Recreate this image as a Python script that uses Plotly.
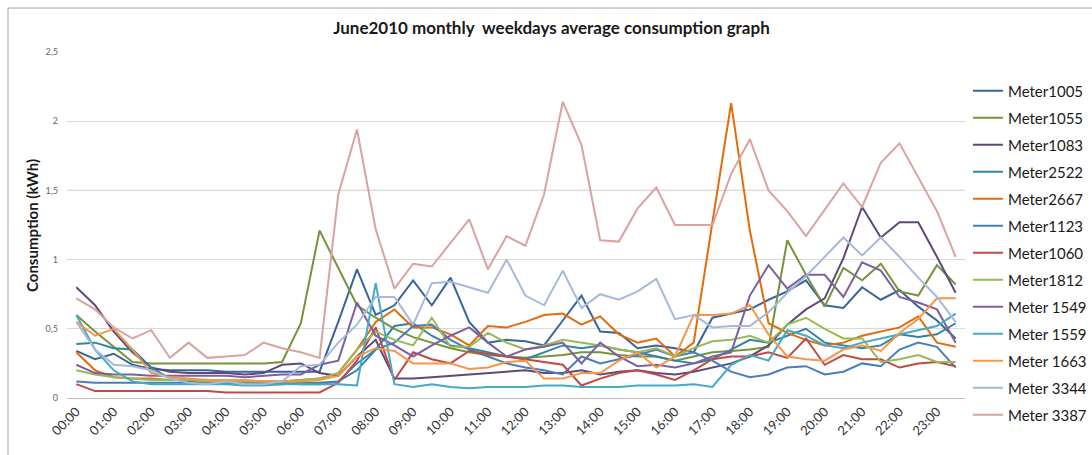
import plotly.graph_objects as go

# Half-hourly time slots
times = [f"{h:02d}:{m:02d}" for h in range(24) for m in (0, 30)]
hour_labels = times[::2]

# Average weekday consumption per meter (kWh)
m1005 = [0.34, 0.28, 0.32, 0.24, 0.21, 0.20, 0.20, 0.20, 0.19, 0.19, 0.19, 0.19, 0.19, 0.19, 0.55, 0.93,
         0.60, 0.67, 0.85, 0.67, 0.87, 0.55, 0.40, 0.42, 0.41, 0.38, 0.56, 0.74, 0.48, 0.47, 0.36, 0.38,
         0.36, 0.33, 0.58, 0.61, 0.64, 0.71, 0.77, 0.85, 0.67, 0.65, 0.80, 0.71, 0.78, 0.66, 0.56, 0.43]
m1055 = [0.60, 0.48, 0.37, 0.26, 0.25, 0.25, 0.25, 0.25, 0.25, 0.25, 0.25, 0.26, 0.54, 1.21, 0.94, 0.67,
         0.58, 0.50, 0.44, 0.40, 0.36, 0.33, 0.31, 0.30, 0.29, 0.30, 0.31, 0.33, 0.33, 0.31, 0.30, 0.30,
         0.27, 0.30, 0.33, 0.34, 0.35, 0.37, 1.14, 0.89, 0.66, 0.94, 0.85, 0.97, 0.77, 0.74, 0.96, 0.82]
m1083 = [0.80, 0.67, 0.48, 0.33, 0.22, 0.19, 0.18, 0.18, 0.18, 0.17, 0.18, 0.24, 0.25, 0.18, 0.16, 0.30,
         0.42, 0.14, 0.14, 0.15, 0.16, 0.17, 0.18, 0.19, 0.20, 0.18, 0.18, 0.20, 0.17, 0.19, 0.20, 0.18,
         0.17, 0.19, 0.22, 0.25, 0.30, 0.38, 0.53, 0.64, 0.72, 1.01, 1.38, 1.16, 1.27, 1.27, 1.02, 0.76]
m2522 = [0.39, 0.40, 0.36, 0.35, 0.22, 0.14, 0.12, 0.11, 0.11, 0.11, 0.10, 0.10, 0.11, 0.11, 0.12, 0.20,
         0.35, 0.52, 0.54, 0.45, 0.38, 0.36, 0.33, 0.30, 0.28, 0.33, 0.38, 0.36, 0.38, 0.35, 0.33, 0.30,
         0.27, 0.25, 0.28, 0.35, 0.42, 0.40, 0.45, 0.50, 0.40, 0.38, 0.36, 0.38, 0.46, 0.44, 0.46, 0.54]
m2667 = [0.33, 0.20, 0.15, 0.14, 0.14, 0.13, 0.13, 0.13, 0.12, 0.12, 0.12, 0.12, 0.13, 0.14, 0.18, 0.35,
         0.55, 0.64, 0.51, 0.51, 0.46, 0.38, 0.52, 0.51, 0.55, 0.60, 0.61, 0.53, 0.59, 0.46, 0.40, 0.43,
         0.30, 0.40, 1.27, 2.13, 1.21, 0.54, 0.47, 0.42, 0.38, 0.40, 0.45, 0.48, 0.51, 0.59, 0.40, 0.37]
m1123 = [0.12, 0.11, 0.11, 0.11, 0.11, 0.11, 0.11, 0.11, 0.11, 0.11, 0.11, 0.11, 0.10, 0.10, 0.12, 0.25,
         0.35, 0.40, 0.52, 0.53, 0.42, 0.35, 0.30, 0.25, 0.22, 0.20, 0.17, 0.30, 0.25, 0.28, 0.31, 0.35,
         0.30, 0.33, 0.27, 0.19, 0.15, 0.17, 0.22, 0.23, 0.17, 0.19, 0.25, 0.23, 0.35, 0.40, 0.37, 0.22]
m1060 = [0.10, 0.05, 0.05, 0.05, 0.05, 0.05, 0.05, 0.05, 0.04, 0.04, 0.04, 0.04, 0.04, 0.04, 0.11, 0.27,
         0.51, 0.13, 0.33, 0.28, 0.25, 0.34, 0.32, 0.30, 0.28, 0.26, 0.24, 0.09, 0.14, 0.18, 0.20, 0.17,
         0.13, 0.20, 0.28, 0.30, 0.30, 0.33, 0.29, 0.43, 0.24, 0.31, 0.28, 0.28, 0.22, 0.25, 0.26, 0.23]
m1812 = [0.20, 0.17, 0.15, 0.14, 0.13, 0.13, 0.13, 0.12, 0.12, 0.12, 0.12, 0.12, 0.13, 0.14, 0.18, 0.35,
         0.48, 0.42, 0.38, 0.58, 0.37, 0.37, 0.47, 0.40, 0.35, 0.38, 0.42, 0.40, 0.38, 0.35, 0.33, 0.36,
         0.30, 0.36, 0.41, 0.42, 0.45, 0.40, 0.53, 0.58, 0.50, 0.43, 0.43, 0.26, 0.28, 0.31, 0.26, 0.26]
m1549 = [0.24, 0.18, 0.17, 0.17, 0.16, 0.16, 0.16, 0.16, 0.16, 0.15, 0.16, 0.17, 0.17, 0.24, 0.27, 0.69,
         0.45, 0.38, 0.30, 0.38, 0.45, 0.51, 0.40, 0.30, 0.35, 0.37, 0.40, 0.25, 0.40, 0.30, 0.23, 0.24,
         0.22, 0.25, 0.30, 0.33, 0.74, 0.96, 0.79, 0.89, 0.89, 0.73, 0.98, 0.92, 0.73, 0.69, 0.64, 0.40]
m1559 = [0.60, 0.35, 0.20, 0.12, 0.10, 0.10, 0.10, 0.10, 0.10, 0.09, 0.09, 0.10, 0.10, 0.10, 0.10, 0.09,
         0.83, 0.10, 0.08, 0.10, 0.08, 0.07, 0.08, 0.08, 0.08, 0.09, 0.09, 0.08, 0.08, 0.08, 0.09, 0.09,
         0.09, 0.10, 0.08, 0.24, 0.31, 0.27, 0.49, 0.45, 0.38, 0.36, 0.40, 0.43, 0.46, 0.49, 0.52, 0.61]
m1663 = [0.55, 0.45, 0.50, 0.35, 0.18, 0.15, 0.14, 0.13, 0.13, 0.13, 0.12, 0.12, 0.12, 0.13, 0.16, 0.30,
         0.36, 0.34, 0.25, 0.25, 0.25, 0.21, 0.22, 0.26, 0.27, 0.14, 0.14, 0.18, 0.18, 0.27, 0.33, 0.22,
         0.30, 0.60, 0.60, 0.61, 0.67, 0.46, 0.30, 0.28, 0.27, 0.35, 0.38, 0.34, 0.47, 0.57, 0.72, 0.72]
m3344 = [0.55, 0.35, 0.24, 0.23, 0.20, 0.14, 0.11, 0.10, 0.12, 0.10, 0.10, 0.12, 0.23, 0.24, 0.40, 0.53,
         0.73, 0.73, 0.53, 0.83, 0.84, 0.80, 0.76, 1.00, 0.74, 0.67, 0.92, 0.65, 0.75, 0.71, 0.77, 0.86,
         0.57, 0.60, 0.51, 0.52, 0.52, 0.62, 0.76, 0.88, 1.02, 1.16, 1.03, 1.16, 1.02, 0.87, 0.73, 0.55]
m3387 = [0.72, 0.64, 0.51, 0.43, 0.49, 0.29, 0.40, 0.29, 0.30, 0.31, 0.40, 0.36, 0.33, 0.29, 1.47, 1.94,
         1.22, 0.79, 0.97, 0.95, 1.12, 1.29, 0.93, 1.17, 1.10, 1.47, 2.14, 1.83, 1.14, 1.13, 1.37, 1.52,
         1.25, 1.25, 1.25, 1.62, 1.87, 1.50, 1.35, 1.17, 1.36, 1.55, 1.38, 1.70, 1.84, 1.60, 1.35, 1.02]

meter_names = ["Meter1005", "Meter1055", "Meter1083", "Meter2522", "Meter2667", "Meter1123",
               "Meter1060", "Meter1812", "Meter 1549", "Meter 1559", "Meter 1663", "Meter 3344",
               "Meter 3387"]
meter_values = [m1005, m1055, m1083, m2522, m2667, m1123, m1060, m1812, m1549, m1559, m1663,
                m3344, m3387]
meter_colors = ["#38659A", "#77933C", "#5F497A", "#31859C", "#E46C0A", "#4A7EBB", "#BE4B48",
                "#98B954", "#7D60A0", "#46AAC5", "#F79646", "#A7B9DA", "#D9A3A1"]

FONT = "Lato, 'Open Sans', sans-serif"

fig = go.Figure()
for name, vals, col in zip(meter_names, meter_values, meter_colors):
    fig.add_trace(go.Scatter(
        x=times, y=vals, name=name, mode="lines", legendgroup=name,
        line=dict(color=col, width=2),
    ))

fig.update_layout(
    width=1092, height=455,
    margin=dict(l=67, r=127, t=52, b=57, autoexpand=False),
    paper_bgcolor="white", plot_bgcolor="white",
    separators=", ",
    font=dict(family=FONT, color="#222222"),
    title=dict(
        text="<b>June2010 monthly  weekdays average consumption graph</b>",
        xref="container", x=0.505, xanchor="center",
        yref="container", y=1 - 28 / 455, yanchor="middle",
        font=dict(size=17, color="#1a1a1a", family=FONT),
    ),
    legend=dict(
        x=1.0033, xanchor="left", y=0.935, yanchor="top",
        font=dict(size=15, color="#1a1a1a", family=FONT),
        tracegroupgap=4.5, bgcolor="rgba(0,0,0,0)",
        maxheight=440,
    ),
    xaxis=dict(
        type="category", range=[-0.5, 47.5],
        tickmode="array", tickvals=hour_labels, ticktext=hour_labels,
        tickangle=-45, tickfont=dict(size=13, color="#333333", family=FONT),
        showgrid=False, showline=True, linecolor="#BFBFBF", linewidth=1,
        ticks="", zeroline=False,
    ),
    yaxis=dict(
        range=[0, 2.5], dtick=0.5,
        tickfont=dict(size=9, color="#666666", family=FONT),
        showgrid=True, gridcolor="#DADADA", gridwidth=1,
        zeroline=False, showline=False, ticks="", ticklabelstandoff=8,
    ),
    annotations=[dict(
        text="<b>Consumption (kWh)</b>", textangle=-90,
        xref="paper", yref="paper", x=-0.039, y=0.5,
        xanchor="center", yanchor="middle", showarrow=False,
        font=dict(size=15, color="#1a1a1a", family=FONT),
    )],
    shapes=[
        # darker reference line at 1.5
        dict(type="line", xref="paper", yref="y", x0=0, x1=1, y0=1.5, y1=1.5,
             line=dict(color="#8C8C8C", width=1), layer="below"),
        # outer chart frame
        dict(type="rect", xref="paper", yref="paper", x0=-0.0657, x1=1.3,
             y0=-0.4, y1=1.127, line=dict(color="#A6A6A6", width=1)),
    ],
)

fig.write_html("out.html")
